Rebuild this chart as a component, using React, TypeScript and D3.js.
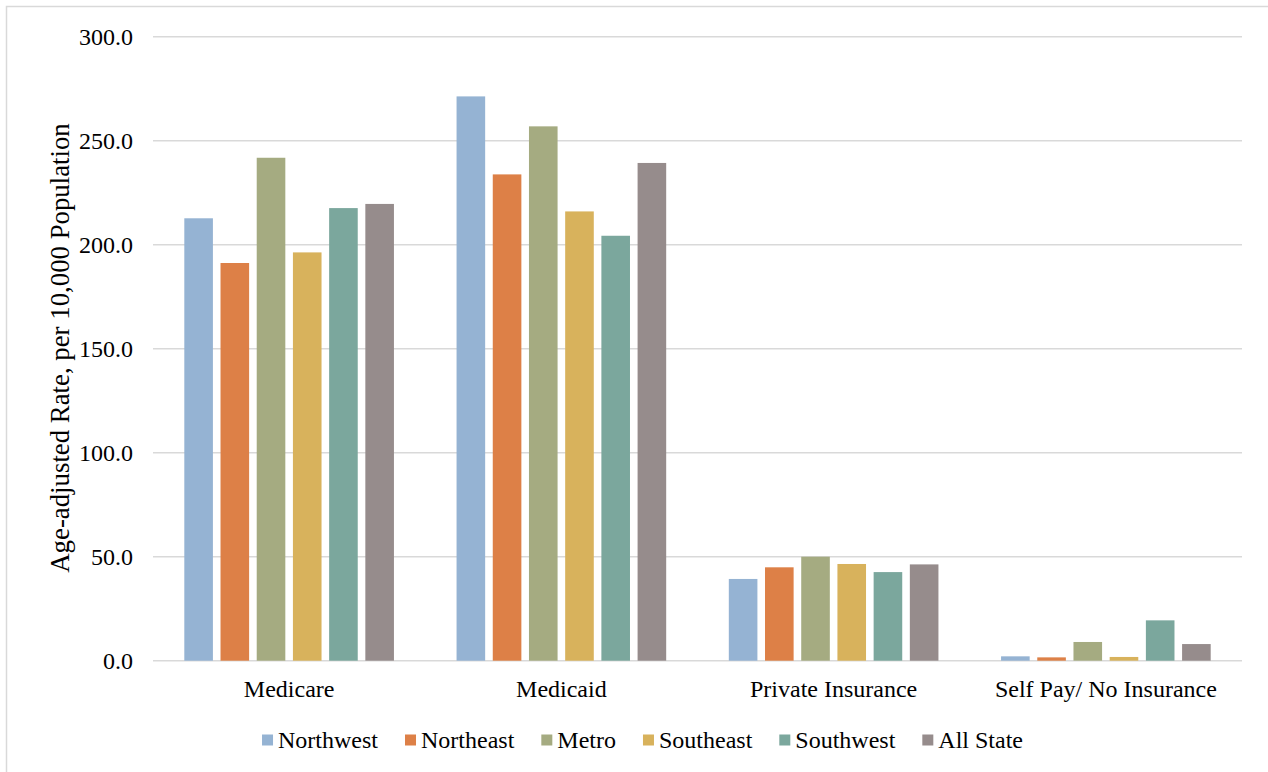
import React, { useEffect, useRef } from "react";
import * as d3 from "d3";

const categories = ["Medicare", "Medicaid", "Private Insurance", "Self Pay/ No Insurance"];
const seriesNames = ["Northwest", "Northeast", "Metro", "Southeast", "Southwest", "All State"];
const seriesColors = ["#95b3d3", "#dd8047", "#a5ab81", "#d8b25c", "#7ba79d", "#968c8c"];
const northwest = [212.7, 271.3, 39.3, 2.1];
const northeast = [191.2, 233.8, 44.9, 1.6];
const metro = [241.8, 256.9, 50.0, 9.0];
const southeast = [196.3, 216.0, 46.5, 1.8];
const southwest = [217.6, 204.3, 42.6, 19.4];
const allState = [219.6, 239.3, 46.3, 8.0];
const seriesValues = [northwest, northeast, metro, southeast, southwest, allState];
const yTicks = [0, 50, 100, 150, 200, 250, 300];
const yTitle = "Age-adjusted Rate, per 10,000 Population";

const W = 1268;
const H = 772;
const FONT = "'Liberation Serif', 'Times New Roman', serif";

export default function App() {
  const ref = useRef<SVGSVGElement | null>(null);

  useEffect(() => {
    const svg = d3.select(ref.current);
    svg.selectAll("*").remove();

    const left = 153, right = 1242, top = 36.7, bottom = 660.7;

    // outer frame (top and left edges visible)
    svg.append("path").attr("d", `M6.5,${H} V6.5 H${W}`)
      .attr("fill", "none").attr("stroke", "#d9d9d9").attr("stroke-width", 1.5);

    const y = d3.scaleLinear().domain([0, 300]).range([bottom, top]);
    const x0 = d3.scaleBand<string>().domain(categories).range([left, right]);
    const bw = x0.bandwidth();
    const x1 = d3.scaleBand<string>().domain(seriesNames).range([0.115 * bw, 0.885 * bw]).paddingInner(0.21);

    // gridlines
    svg.append("g").selectAll("line").data(yTicks).join("line")
      .attr("x1", left).attr("x2", right)
      .attr("y1", (d) => y(d)).attr("y2", (d) => y(d))
      .attr("stroke", "#d9d9d9").attr("stroke-width", 1.5);

    // y tick labels
    svg.append("g").selectAll("text").data(yTicks).join("text")
      .attr("x", 133).attr("y", (d) => y(d)).attr("dy", "0.35em")
      .attr("text-anchor", "end").attr("font-family", FONT).attr("font-size", 24).attr("fill", "#000")
      .text((d) => d3.format(".1f")(d));

    // bars
    const flat: { c: string; s: string; v: number; color: string }[] = [];
    seriesNames.forEach((s, si) => {
      categories.forEach((c, ci) => {
        flat.push({ c, s, v: seriesValues[si][ci], color: seriesColors[si] });
      });
    });
    svg.append("g").selectAll("rect").data(flat).join("rect")
      .attr("x", (d) => (x0(d.c) as number) + (x1(d.s) as number))
      .attr("width", x1.bandwidth())
      .attr("y", (d) => y(d.v))
      .attr("height", (d) => y(0) - y(d.v))
      .attr("fill", (d) => d.color);

    // category labels
    svg.append("g").selectAll("text").data(categories).join("text")
      .attr("x", (d) => (x0(d) as number) + bw / 2).attr("y", 689).attr("dy", "0.35em")
      .attr("text-anchor", "middle").attr("font-family", FONT).attr("font-size", 24).attr("fill", "#000")
      .text((d) => d);

    // y title
    svg.append("text")
      .attr("transform", `translate(60,348) rotate(-90)`)
      .attr("dy", "0.35em").attr("text-anchor", "middle")
      .attr("font-family", FONT).attr("font-size", 26.8).attr("fill", "#000")
      .text(yTitle);

    // legend
    const lg = svg.append("g");
    const items = seriesNames.map((s, i) => {
      const g = lg.append("g");
      g.append("rect").attr("x", 0).attr("y", -5.5).attr("width", 11).attr("height", 11).attr("fill", seriesColors[i]);
      const t = g.append("text").attr("x", 16).attr("y", 0).attr("dy", "0.35em")
        .attr("font-family", FONT).attr("font-size", 24).attr("fill", "#000").text(s);
      const w = (t.node() as SVGTextElement).getComputedTextLength();
      return { g, w: 16 + w };
    });
    const gap = 27;
    const total = items.reduce((a, b) => a + b.w, 0) + gap * (items.length - 1);
    let cx = 642.5 - total / 2;
    items.forEach((it) => {
      it.g.attr("transform", `translate(${cx},740)`);
      cx += it.w + gap;
    });
  }, []);

  return (
    <svg ref={ref} width={W} height={H} style={{ position: "absolute", left: 0, top: 0, background: "#fff" }} />
  );
}
